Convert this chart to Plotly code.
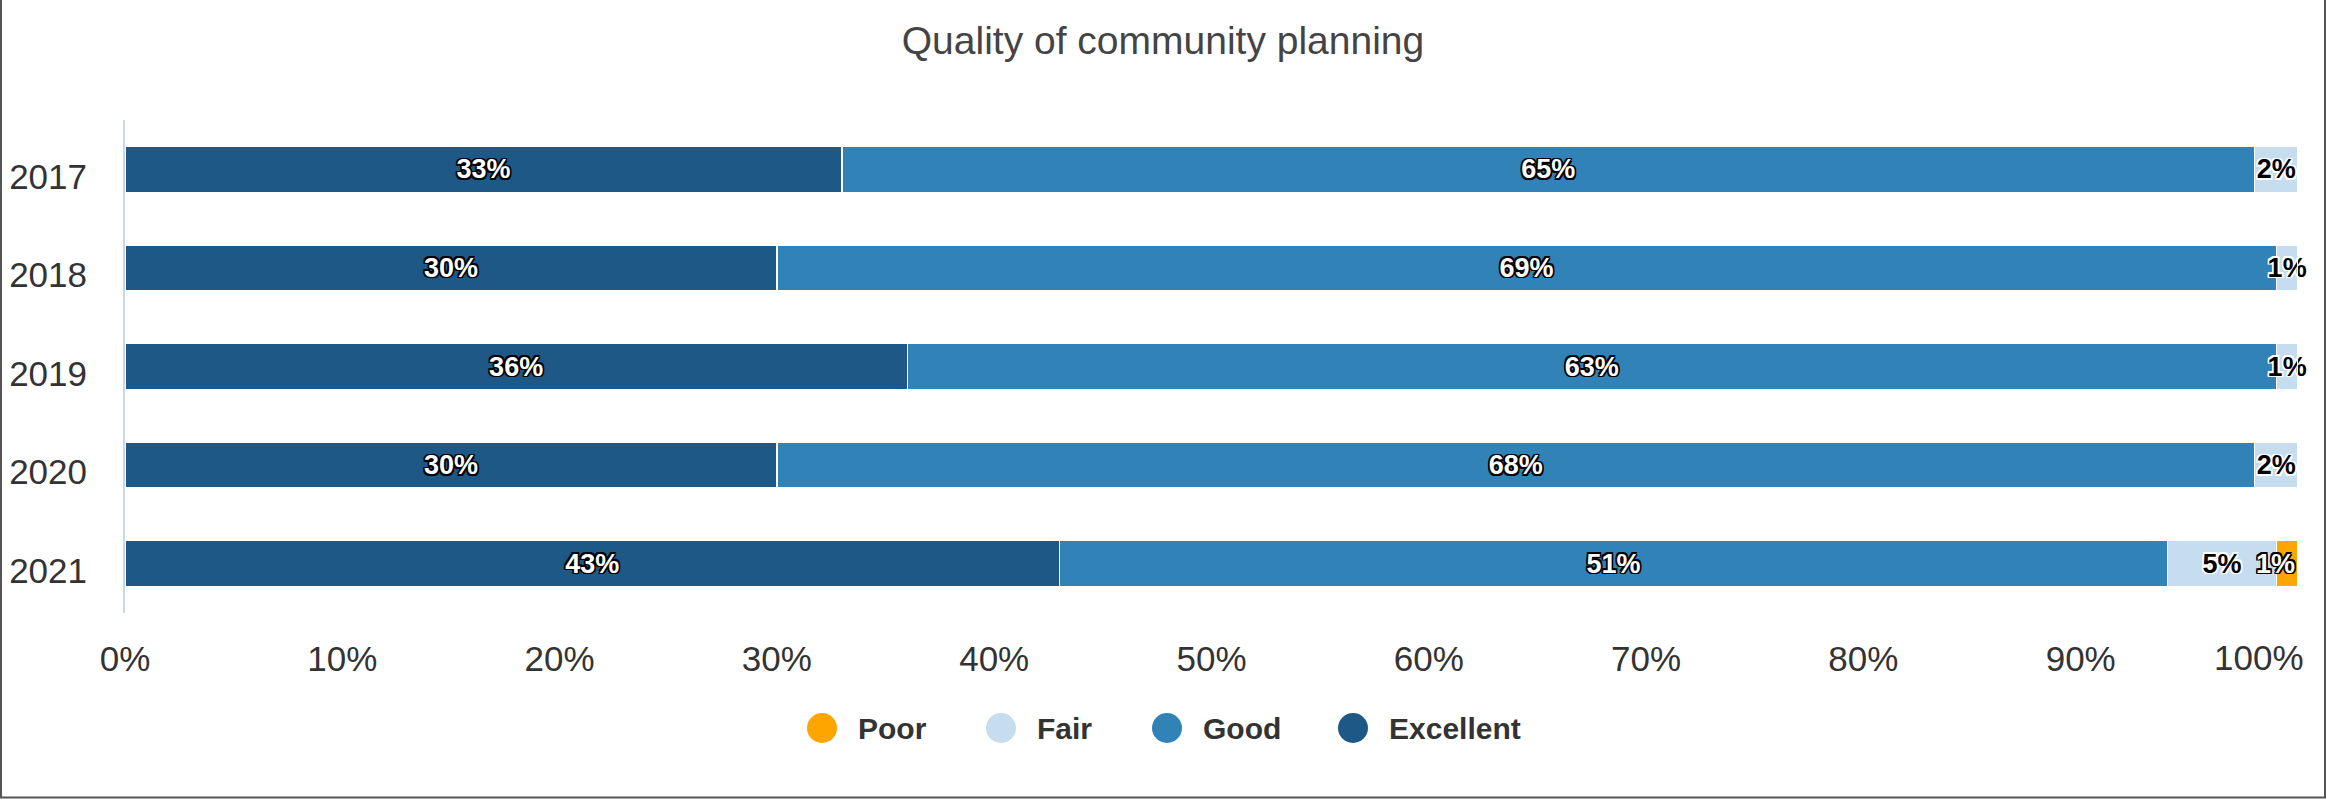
import plotly.graph_objects as go

# Survey results: share of ratings per year (percent)
years = ["2017", "2018", "2019", "2020", "2021"]
excellent = [33, 30, 36, 30, 43]
good = [65, 69, 63, 68, 51]
fair = [2, 1, 1, 2, 5]
poor = [0, 0, 0, 0, 1]

x_ticks = [0, 10, 20, 30, 40, 50, 60, 70, 80, 90, 100]
x_tick_labels = ["0%", "10%", "20%", "30%", "40%", "50%", "60%", "70%", "80%", "90%", "100%"]

legend_order = ["Poor", "Fair", "Good", "Excellent"]

COLORS = {
    "Excellent": "#1d5886",
    "Good": "#3182b6",
    "Fair": "#c6ddf0",
    "Poor": "#ffa500",
}

W, H = 2326, 799
ML, MR, MT, MB = 125, 28, 120, 186
PW, PH = W - ML - MR, H - MT - MB

FONT = "Liberation Sans, Arial, sans-serif"
DARK_OUTLINE = "-1.5px -1.5px 0 #000, 1.5px -1.5px 0 #000, -1.5px 1.5px 0 #000, 1.5px 1.5px 0 #000, 0 1.5px 0 #000, 0 -1.5px 0 #000, 1.5px 0 0 #000, -1.5px 0 0 #000"
LIGHT_OUTLINE = DARK_OUTLINE.replace("#000", "#fff")

fig = go.Figure()

series = [
    ("Excellent", excellent, "white", DARK_OUTLINE, "middle"),
    ("Good", good, "white", DARK_OUTLINE, "middle"),
    ("Fair", fair, "black", LIGHT_OUTLINE, "middle"),
    ("Poor", poor, "white", DARK_OUTLINE, "end"),
]

for name, vals, tcolor, outline, anchor in series:
    fig.add_trace(go.Bar(
        name=name,
        y=years,
        x=vals,
        orientation="h",
        marker=dict(color=COLORS[name], line=dict(color="white", width=1.5)),
        text=[f"{v}%" if v > 0 else "" for v in vals],
        textposition="inside",
        insidetextanchor=anchor,
        textangle=0,
        constraintext="none",
        cliponaxis=False,
        textfont=dict(family=FONT, size=27, color=tcolor, weight="bold", shadow=outline),
        showlegend=False,
        hoverinfo="x+y+name",
    ))

fig.update_layout(
    width=W,
    height=H,
    barmode="stack",
    bargap=0.533,
    paper_bgcolor="white",
    plot_bgcolor="white",
    margin=dict(l=ML, r=MR, t=MT, b=MB, autoexpand=False),
    title=dict(
        text="Quality of community planning",
        x=0.5,
        xref="container",
        y=1 - 40 / H,
        yref="container",
        xanchor="center",
        yanchor="middle",
        font=dict(family=FONT, size=39, color="#444444"),
    ),
    showlegend=False,
    xaxis=dict(
        range=[0, 100],
        tickvals=x_ticks[:-1],
        ticktext=x_tick_labels[:-1],
        showgrid=False,
        zeroline=False,
        showline=False,
        ticks="",
        ticklabelstandoff=22,
        tickfont=dict(family=FONT, size=35, color="#333333"),
        fixedrange=True,
    ),
    yaxis=dict(
        type="category",
        autorange="reversed",
        showgrid=False,
        zeroline=False,
        showline=True,
        linecolor="#ccd6eb",
        linewidth=2,
        ticks="",
        ticklabelstandoff=29,
        ticklabelshift=-7,
        tickfont=dict(family=FONT, size=35, color="#333333"),
        fixedrange=True,
    ),
)

# Last x tick label, kept inside the chart's right edge
fig.add_annotation(
    x=x_ticks[-1], xref="x",
    y=-44 / PH, yref="paper",
    text=x_tick_labels[-1],
    showarrow=False,
    xanchor="right", yanchor="middle",
    xshift=8,
    font=dict(family=FONT, size=35, color="#333333"),
)

# Legend with round markers below the axis
legend_cx = [822, 1001, 1167, 1353]
legend_cy = 728
for name, cx in zip(legend_order, legend_cx):
    px = (cx - ML) / PW
    py = (MT + PH - legend_cy) / PH
    fig.add_shape(
        type="circle",
        xref="paper", yref="paper",
        xsizemode="pixel", ysizemode="pixel",
        xanchor=px, yanchor=py,
        x0=-15, x1=15, y0=-15, y1=15,
        fillcolor=COLORS[name],
        line=dict(width=0),
    )
    fig.add_annotation(
        x=(cx + 34 - ML) / PW, xref="paper",
        y=py, yref="paper",
        text=f"<b>{name}</b>",
        showarrow=False,
        xanchor="left", yanchor="middle",
        font=dict(family=FONT, size=30, color="#333333"),
    )

# Outer frame
fig.add_shape(
    type="rect",
    xref="paper", yref="paper",
    x0=(1 - ML) / PW, x1=(W - 1 - ML) / PW,
    y0=-(MB - 1.5) / PH, y1=(PH + MT + 10) / PH,
    line=dict(color="#555555", width=2),
    fillcolor="rgba(0,0,0,0)",
    layer="above",
)

fig.write_html("out.html")
